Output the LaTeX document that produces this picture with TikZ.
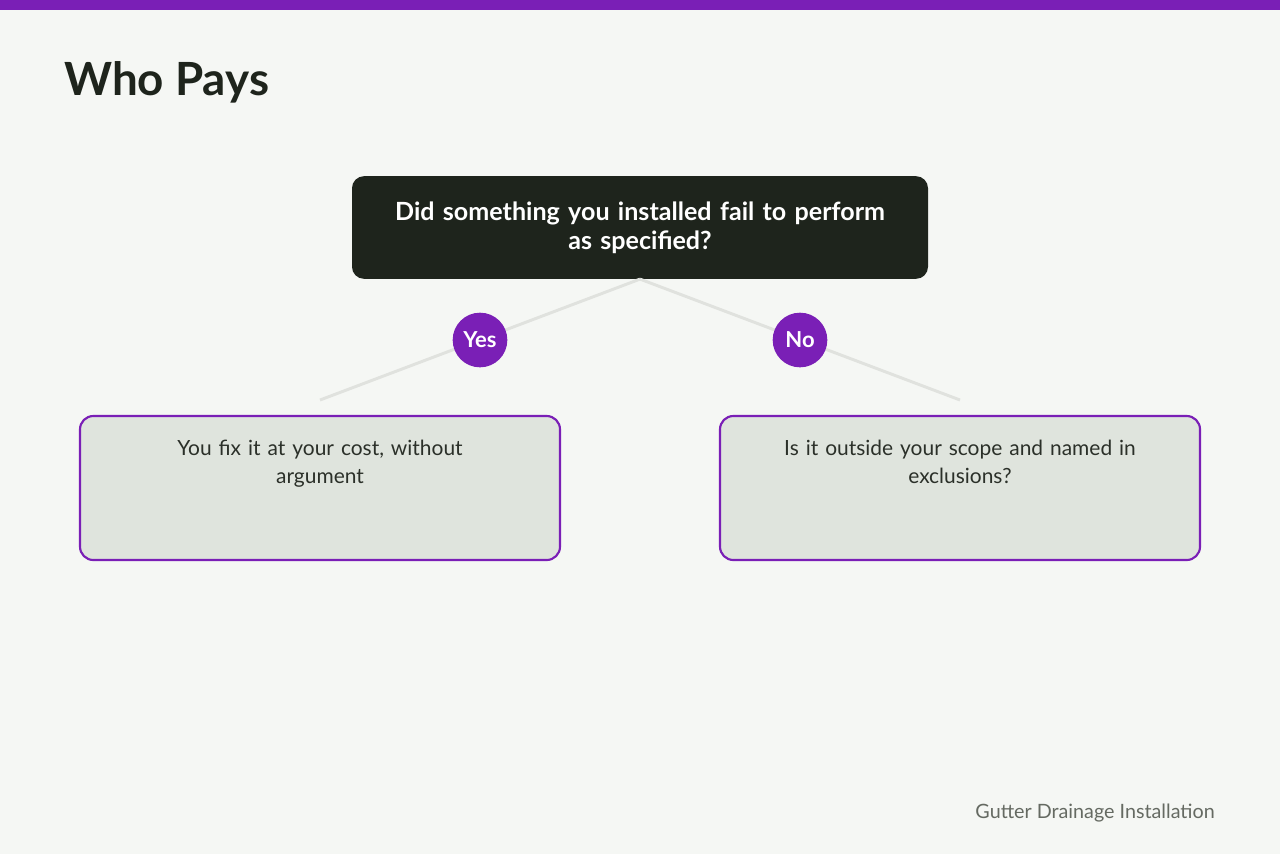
\documentclass[tikz,border=0pt]{standalone}
\usepackage{fontspec}
\setmainfont{Lato}
\definecolor{bg}{HTML}{F5F7F4}
\definecolor{purp}{HTML}{7A1FB6}
\definecolor{dark}{HTML}{1E241C}
\definecolor{boxfill}{HTML}{DFE4DD}
\definecolor{linec}{HTML}{E0E2DE}
\definecolor{txt}{HTML}{2B3029}
\definecolor{foot}{HTML}{656A62}
\begin{document}
\begin{tikzpicture}[x=0.75pt,y=-0.75pt,
  qbox/.style={fill=dark,rounded corners=9pt,minimum width=432pt,minimum height=77pt,text=white,font=\fontsize{18.8}{22}\selectfont\bfseries,align=center,text width=420pt,inner sep=0pt},
  abox/.style={fill=boxfill,draw=purp,line width=1.6pt,rounded corners=10pt,minimum width=360pt,minimum height=108pt,inner sep=0pt},
  atext/.style={text=txt,font=\fontsize{15.7}{20.5}\selectfont,align=center,text width=330pt,anchor=north,inner sep=0pt},
  badge/.style={circle,fill=purp,minimum size=41pt,inner sep=0pt,text=white,font=\fontsize{16.5}{18}\selectfont\bfseries},
  conn/.style={draw=linec,line width=2.2pt}]
\fill[bg] (0,0) rectangle (1280,854);
\useasboundingbox (0,0) rectangle (1280,854);
\fill[purp] (0,0) rectangle (1280,10);
\node[anchor=base west,inner sep=0pt,text=dark,font=\fontsize{34.3}{38}\selectfont\bfseries] (title) at (64,95) {Who Pays};
\node[qbox] (q) at (640,227.5) {Did something you installed fail to perform\\as specified?};
\coordinate (le) at (320,400);
\coordinate (re) at (960,400);
\draw[conn] (q.south) -- (le);
\draw[conn] (q.south) -- (re);
\node[badge] (yes) at (480,340) {Yes};
\node[badge] (no) at (800,340) {No};
\node[abox] (a) at (320,488) {};
\node[abox] (b) at (960,488) {};
\node[atext] (at) at (320,440) {You fix it at your cost, without\\argument};
\node[atext] (bt) at (960,440) {Is it outside your scope and named in\\exclusions?};
\node[anchor=base east,inner sep=0pt,text=foot,font=\fontsize{14.8}{16}\selectfont] (ft) at (1215,818) {Gutter Drainage Installation};
\end{tikzpicture}
\end{document}
